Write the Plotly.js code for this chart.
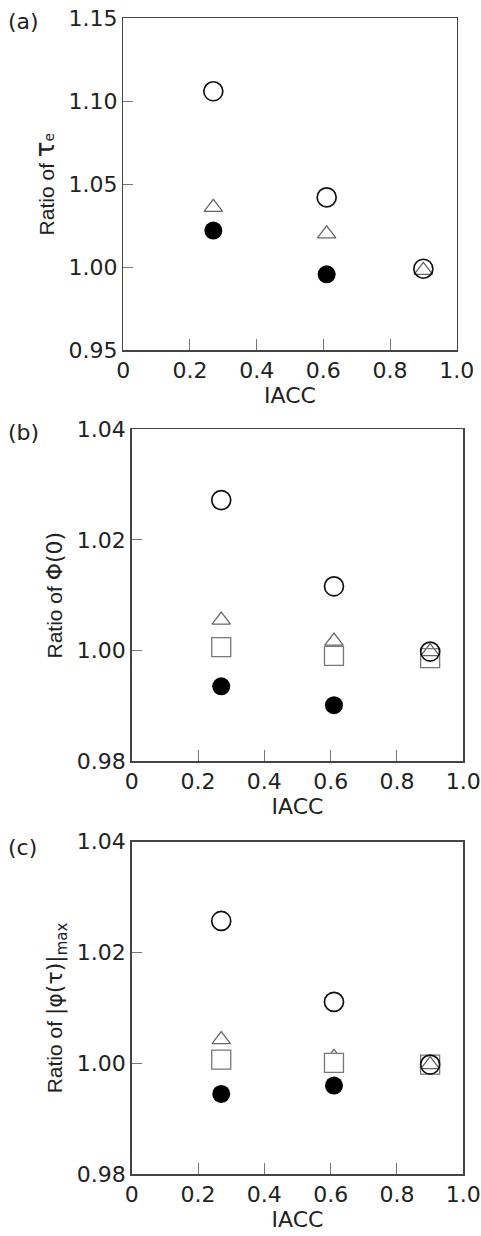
<!DOCTYPE html>
<html><head><meta charset="utf-8">
<script src="https://cdn.plot.ly/plotly-3.0.1.min.js"></script>
<style>body{margin:0;padding:0;background:#fff}#chart{width:481px;height:1236px}</style>
</head><body><div id="chart"></div>
<script>
// ---- data ----
const iacc = [0.27, 0.61, 0.90];
const iaccFilled = [0.27, 0.61];

// (a) ratio of tau_e
const aOpenCircle = [1.106, 1.042, 0.999];
const aTriangle   = [1.036, 1.020, 0.998];
const aFilled     = [1.022, 0.9956];

// (b) ratio of Phi(0)
const bOpenCircle = [1.0272, 1.0116, 0.9998];
const bTriangle   = [1.0055, 1.0017, 0.9998];
const bSquare     = [1.0006, 0.9990, 0.9986];
const bFilled     = [0.9935, 0.9901];

// (c) ratio of |phi(tau)|max
const cOpenCircle = [1.0257, 1.0111, 0.9998];
const cTriangle   = [1.0043, 1.0011, 0.9998];
const cSquare     = [1.0007, 1.0001, 0.9998];
const cFilled     = [0.9945, 0.9960];

const xTickVals = [0, 0.2, 0.4, 0.6, 0.8, 1.0];
const xTickText = ['0', '0.2', '0.4', '0.6', '0.8', '1.0'];
const aTickVals = [0.95, 1.00, 1.05, 1.10, 1.15];
const aTickText = ['0.95', '1.00', '1.05', '1.10', '1.15'];
const bcTickVals = [0.98, 1.00, 1.02, 1.04];
const bcTickText = ['0.98', '1.00', '1.02', '1.04'];

// ---- layout helpers ----
const W = 481, H = 1236;
const px = v => v / W;
const py = v => 1 - v / H;
const vFam = 'DejaVu Sans, Verdana, sans-serif';
const tickFont = {family: vFam, size: 22, color: '#222'};
const titleFont = {family: 'Liberation Sans, Arial, sans-serif', size: 21, color: '#222'};
const sym = (s, size) => '<span style="font-family:DejaVu Sans;font-size:' + size + 'px">' + s + '</span>';

function xAxis(anchor, l, r) {
  return {
    anchor: anchor, domain: [px(l), px(r)], range: [0, 1],
    tickmode: 'array', tickvals: xTickVals, ticktext: xTickText,
    ticks: 'inside', ticklen: 11, tickwidth: 1, tickcolor: '#777',
    showline: true, linecolor: '#444', linewidth: 1.5, mirror: true,
    showgrid: false, zeroline: false, tickfont: tickFont,
    title: {text: 'IACC', font: {family: vFam, size: 22, color: '#222'}, standoff: 3}
  };
}
function yAxis(anchor, t, b, range, vals, text, title) {
  return {
    anchor: anchor, domain: [py(b), py(t)], range: range,
    tickmode: 'array', tickvals: vals, ticktext: text,
    ticks: 'inside', ticklen: 10, tickwidth: 1, tickcolor: '#777',
    showline: true, linecolor: '#444', linewidth: 1.5, mirror: true,
    showgrid: false, zeroline: false, tickfont: tickFont,
    title: {text: title, font: titleFont, standoff: 8}
  };
}

const openCircle = {symbol: 'circle-open', size: 19, color: '#111', line: {width: 1.7, color: '#111'}};
const filledCircle = {symbol: 'circle', size: 18, color: '#000', line: {width: 0}};
const triangle = {symbol: 'triangle-up-open', size: 16, color: '#666', line: {width: 1.3, color: '#666'}};
function squareMarker() {
  return {symbol: 'square', size: 19, color: ['#fff', '#fff', 'rgba(255,255,255,0)'], line: {width: 1.3, color: '#777'}};
}

function panelTraces(xa, ya, open, tri, sq, filled) {
  const tr = [];
  tr.push({x: iaccFilled, y: filled, xaxis: xa, yaxis: ya, type: 'scatter', mode: 'markers', marker: filledCircle, hoverinfo: 'x+y'});
  tr.push({x: iacc, y: tri, xaxis: xa, yaxis: ya, type: 'scatter', mode: 'markers', marker: triangle, hoverinfo: 'x+y'});
  if (sq) tr.push({x: iacc, y: sq, xaxis: xa, yaxis: ya, type: 'scatter', mode: 'markers', marker: squareMarker(), hoverinfo: 'x+y'});
  tr.push({x: iacc, y: open, xaxis: xa, yaxis: ya, type: 'scatter', mode: 'markers', marker: openCircle, hoverinfo: 'x+y'});
  return tr;
}

const data = [].concat(
  panelTraces('x', 'y', aOpenCircle, aTriangle, null, aFilled),
  panelTraces('x2', 'y2', bOpenCircle, bTriangle, bSquare, bFilled),
  panelTraces('x3', 'y3', cOpenCircle, cTriangle, cSquare, cFilled)
);

const labelFont = {family: vFam, size: 22, color: '#222'};
const layout = {
  width: W, height: H, margin: {l: 0, r: 0, t: 0, b: 0},
  paper_bgcolor: '#fff', plot_bgcolor: '#fff', showlegend: false,
  xaxis: xAxis('y', 123.3, 456.7),
  yaxis: yAxis('x', 18.3, 350, [0.95, 1.15], aTickVals, aTickText,
    'Ratio of ' + sym('τ', 26) + sym('e', 14)),
  xaxis2: xAxis('y2', 131.7, 463.3),
  yaxis2: yAxis('x2', 429.3, 761, [0.98, 1.04], bcTickVals, bcTickText,
    'Ratio of ' + sym('Φ(0)', 22)),
  xaxis3: xAxis('y3', 131.7, 463.3),
  yaxis3: yAxis('x3', 841.7, 1174.3, [0.98, 1.04], bcTickVals, bcTickText,
    'Ratio of ' + sym('|φ(τ)|', 22) + '<sub>' + sym('max', 15) + '</sub>'),
  annotations: [
    {text: '(a)', x: px(6), y: py(22), xref: 'paper', yref: 'paper', xanchor: 'left', yanchor: 'middle', showarrow: false, font: labelFont},
    {text: '(b)', x: px(6), y: py(432), xref: 'paper', yref: 'paper', xanchor: 'left', yanchor: 'middle', showarrow: false, font: labelFont},
    {text: '(c)', x: px(6), y: py(847), xref: 'paper', yref: 'paper', xanchor: 'left', yanchor: 'middle', showarrow: false, font: labelFont}
  ]
};

Plotly.newPlot('chart', data, layout, {staticPlot: true, displayModeBar: false});
</script>
</body></html>
